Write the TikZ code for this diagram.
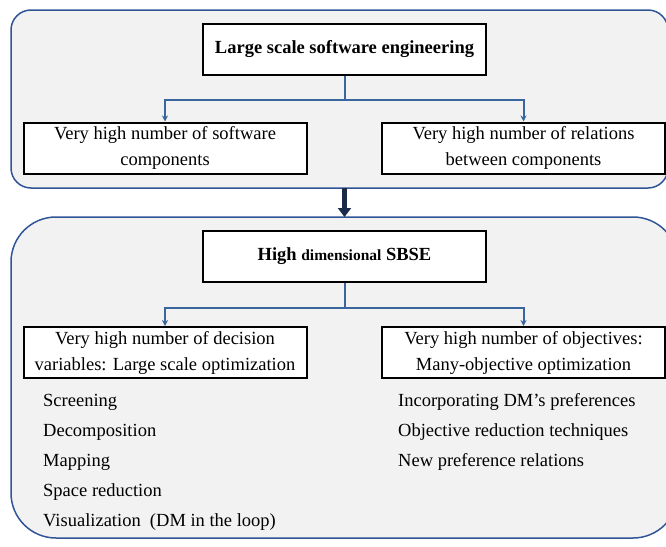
\documentclass[tikz,border=0pt]{standalone}
\usepackage{fontspec}
\setmainfont{Liberation Serif}
\usetikzlibrary{arrows.meta}

\definecolor{panelgray}{HTML}{F2F2F2}
\definecolor{panelblue}{HTML}{2F5597}
\definecolor{linkblue}{HTML}{3A66A0}
\definecolor{navy}{HTML}{1C2A4A}

\tikzstyle{panel} = [
  rectangle,
  anchor=north west,
  inner sep=0pt,
  outer sep=0pt,
  fill=panelgray,
  draw=panelblue,
  line width=1.5pt
]
\tikzstyle{box} = [
  rectangle,
  minimum width=283pt,
  minimum height=51pt,
  inner sep=2pt,
  text centered,
  align=center,
  fill=white,
  draw=black,
  line width=2pt,
  font=\fontsize{18.5}{26}\selectfont
]
\tikzstyle{item} = [
  anchor=west,
  inner sep=0pt,
  font=\fontsize{18.5}{26}\selectfont
]
\tikzstyle{link} = [linkblue, line width=2pt, -{Stealth[length=6pt,width=6pt]}]
\tikzstyle{bigarrow} = [navy, line width=5pt, -{Triangle[length=9pt,width=13pt]}]

\begin{document}
\begin{tikzpicture}[x=1pt, y=-1pt]
    \useasboundingbox (0,0) rectangle (666,546);

    % Paneles de fondo
    \node (toppanel) [panel, rounded corners=20pt, minimum width=657pt, minimum height=178pt] at (11,10) {};
    \node (botpanel) [panel, rounded corners=45pt, minimum width=667pt, minimum height=321pt] at (11,217) {};

    % Bloque superior
    \node (lsse) [box] at (344.5,49) {\textbf{Large scale software engineering}};
    \node (swcomp) [box] at (165,148) {Very high number of software\\components};
    \node (relcomp) [box] at (523.5,148) {Very high number of relations\\between components};

    % Bloque inferior
    \node (hdsbse) [box] at (344.5,256) {\textbf{High {\fontsize{15.5}{20}\selectfont dimensional} SBSE}};
    \node (lsopt) [box] at (165,352.5) {Very high number of decision\\variables: Large scale optimization};
    \node (moopt) [box] at (523.5,352.5) {Very high number of objectives:\\Many-objective optimization};

    % Listas de técnicas
    \node (screen) [item] at (43,402) {Screening};
    \node (decomp) [item] at (43,432) {Decomposition};
    \node (mapping) [item] at (43,462) {Mapping};
    \node (spacered) [item] at (43,492) {Space reduction};
    \node (visual) [item] at (43,522) {Visualization\ \ (DM in the loop)};

    \node (prefs) [item] at (398,402) {Incorporating DM’s preferences};
    \node (objred) [item] at (398,432) {Objective reduction techniques};
    \node (newrel) [item] at (398,462) {New preference relations};

    % Flechas
    \draw [link] (lsse.south) -- ++(0,24) -| (swcomp.north);
    \draw [link] (lsse.south) -- ++(0,24) -| (relcomp.north);
    \draw [link] (hdsbse.south) -- ++(0,25) -| (lsopt.north);
    \draw [link] (hdsbse.south) -- ++(0,25) -| (moopt.north);
    \draw [bigarrow] (lsse.south |- toppanel.south) -- (lsse.south |- botpanel.north);

\end{tikzpicture}
\end{document}
